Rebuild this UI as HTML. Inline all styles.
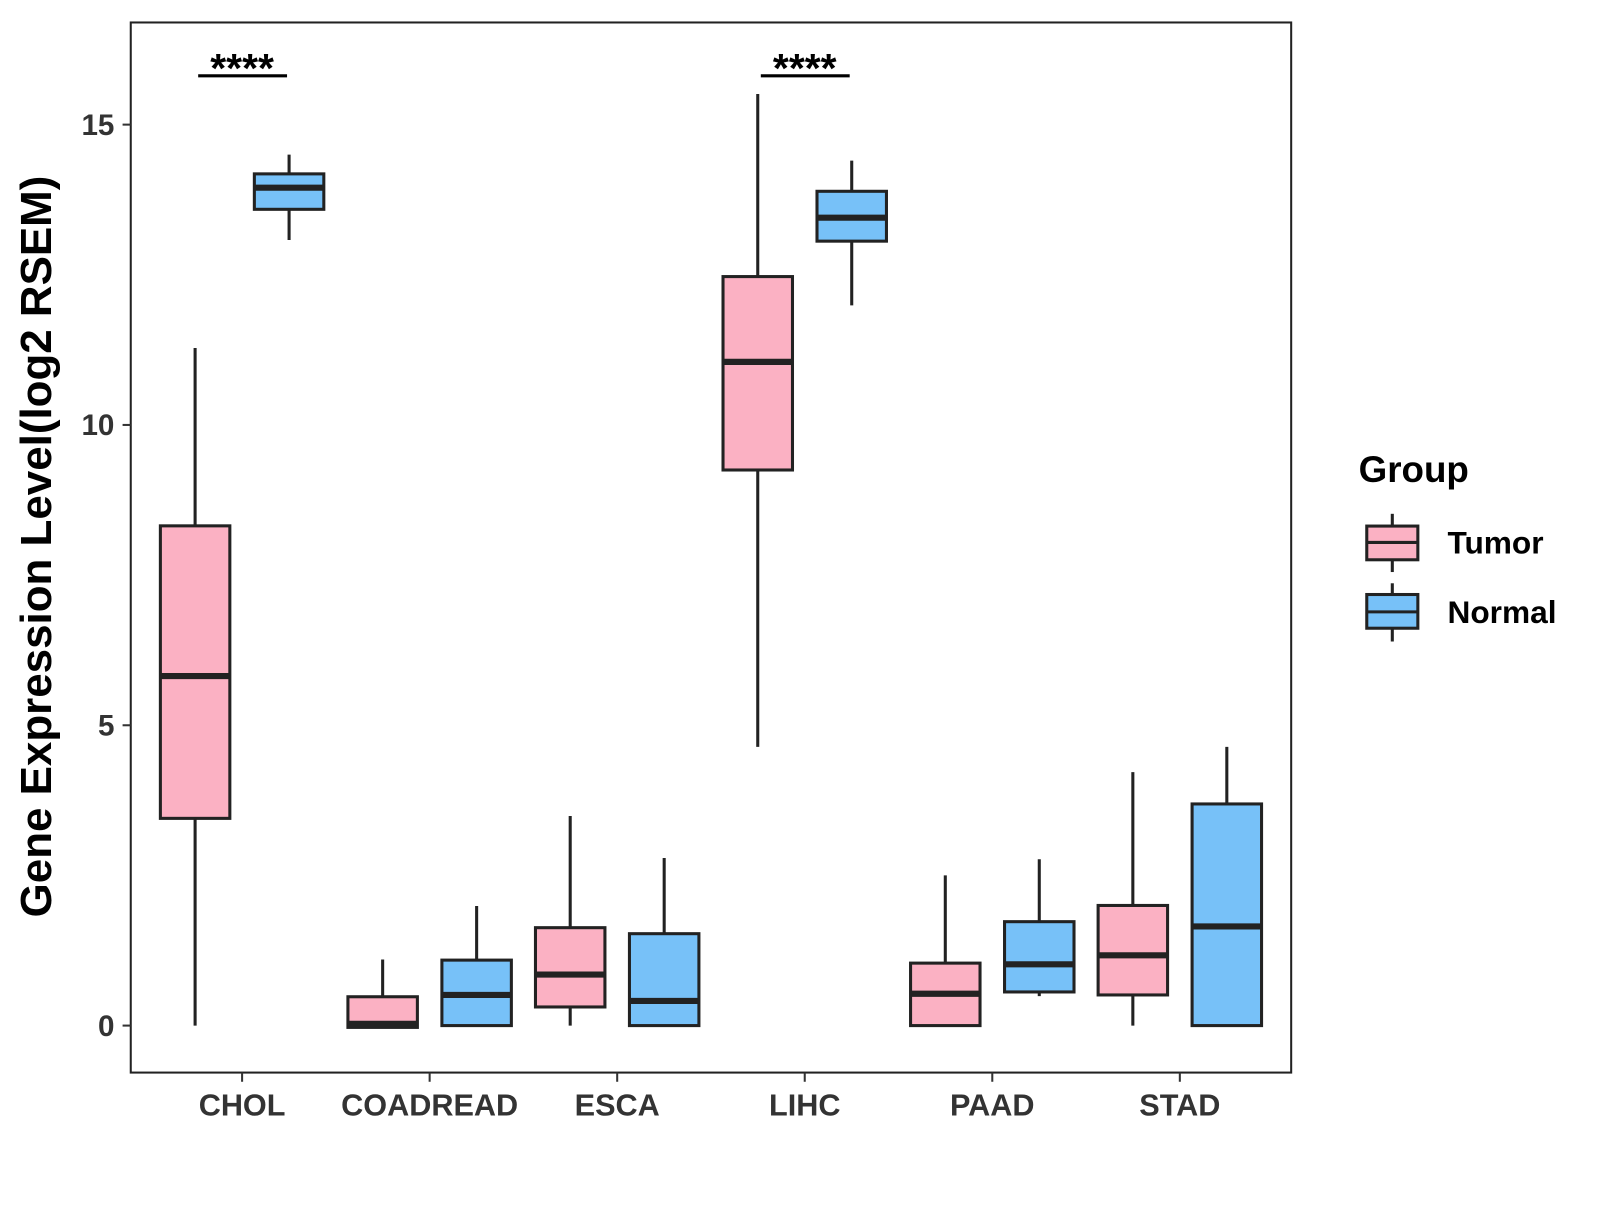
<!DOCTYPE html>
<html><head><meta charset="utf-8"><style>
body{margin:0;background:#fff}
svg text{font-family:"Liberation Sans",Arial,sans-serif;font-weight:bold}
</style></head><body>
<svg id="chart" width="1600" height="1200" xmlns="http://www.w3.org/2000/svg">
<g transform="scale(1.0215)">
<rect x="128" y="22" width="1136" height="1028" fill="#fff" stroke="#222" stroke-width="2"/>
<g id="marks"></g>
<text x="50" y="535" font-size="43" text-anchor="middle" transform="rotate(-90 50 535)" fill="#000">Gene Expression Level(log2 RSEM)</text>
<g>
<text x="1330" y="472" font-size="36" fill="#000">Group</text>
<g>
<line x1="1363" y1="503" x2="1363" y2="560" stroke="#222" stroke-width="3"/>
<rect x="1338" y="515" width="50" height="33" fill="#FBB1C3" stroke="#222" stroke-width="3"/>
<line x1="1338" y1="531" x2="1388" y2="531" stroke="#222" stroke-width="3"/>
<text x="1417" y="542" font-size="31" fill="#000">Tumor</text></g>
<g>
<line x1="1363" y1="571" x2="1363" y2="628" stroke="#222" stroke-width="3"/>
<rect x="1338" y="582" width="50" height="33" fill="#77C1F8" stroke="#222" stroke-width="3"/>
<line x1="1338" y1="599" x2="1388" y2="599" stroke="#222" stroke-width="3"/>
<text x="1417" y="610" font-size="31" fill="#000">Normal</text></g>
</g>
</g>
</svg>
<script>
const categories=["CHOL","COADREAD","ESCA","LIHC","PAAD","STAD"];
const tumorMin=[0,-0.03,0,4.64,0,0];
const tumorQ1=[3.45,-0.03,0.31,9.25,0,0.51];
const tumorMed=[5.82,0.03,0.85,11.05,0.53,1.17];
const tumorQ3=[8.32,0.48,1.63,12.47,1.04,2.0];
const tumorMax=[11.28,1.1,3.49,15.51,2.5,4.22];
const normalMin=[13.08,0,0,11.99,0.49,0];
const normalQ1=[13.59,0,0,13.06,0.56,0];
const normalMed=[13.95,0.51,0.41,13.45,1.02,1.65];
const normalQ3=[14.18,1.09,1.53,13.89,1.73,3.69];
const normalMax=[14.5,1.99,2.79,14.4,2.77,4.64];
const yTicks=[0,5,10,15];
const sigCats=["CHOL","LIHC"];
const sigLabels=["****","****"];
const sigY=16.0;
const NS="http://www.w3.org/2000/svg";
const g=document.getElementById('marks');
function y(v){return 1004-(v)*58.8;}
function x(i){return 237+i*183.6;}
function mk(tag,attrs,parent){const e=document.createElementNS(NS,tag);for(const k in attrs)e.setAttribute(k,attrs[k]);(parent||g).appendChild(e);return e;}
yTicks.forEach(t=>{
  const tk=mk('line',{x1:120,x2:128,y1:y(t),y2:y(t),stroke:'#333','stroke-width':2});
  
  
  const lb=mk('text',{x:112,y:y(t)+10,'font-size':29,'text-anchor':'end',fill:'#333'});
  lb.textContent=t;
  
  
});
categories.forEach((c,i)=>{
  const tk=mk('line',{x1:x(i),x2:x(i),y1:1050,y2:1059,stroke:'#333','stroke-width':2});
  
  
  const lb=mk('text',{x:x(i),y:1092,'font-size':30,'text-anchor':'middle',fill:'#333'});
  lb.textContent=c;
  
  
});
function box(cx,mn,q1,md,q3,mx,fill,name){
  const grp=mk('g',{});
  
  
  mk('line',{x1:cx,x2:cx,y1:y(mx),y2:y(mn),stroke:'#222','stroke-width':3},grp);
  mk('rect',{x:cx-34,y:y(q3),width:68,height:Math.max(1,y(q1)-y(q3)),fill:fill,stroke:'#222','stroke-width':3},grp);
  mk('line',{x1:cx-34,x2:cx+34,y1:y(md),y2:y(md),stroke:'#222','stroke-width':6},grp);
}
categories.forEach((c,i)=>{
  box(x(i)-46,tumorMin[i],tumorQ1[i],tumorMed[i],tumorQ3[i],tumorMax[i],'#FBB1C3','box-tumor-'+c.toLowerCase());
  box(x(i)+46,normalMin[i],normalQ1[i],normalMed[i],normalQ3[i],normalMax[i],'#77C1F8','box-normal-'+c.toLowerCase());
});
sigCats.forEach((c,k)=>{
  const i=categories.indexOf(c);
  const l=mk('line',{x1:x(i)-43,x2:x(i)+44,y1:y(sigY)+11,y2:y(sigY)+11,stroke:'#000','stroke-width':3});
  
  
  const t=mk('text',{x:x(i),y:y(sigY)+17,'font-size':40,'text-anchor':'middle',fill:'#000'});
  t.textContent=sigLabels[k];
  
  
});
</script>
</body></html>
